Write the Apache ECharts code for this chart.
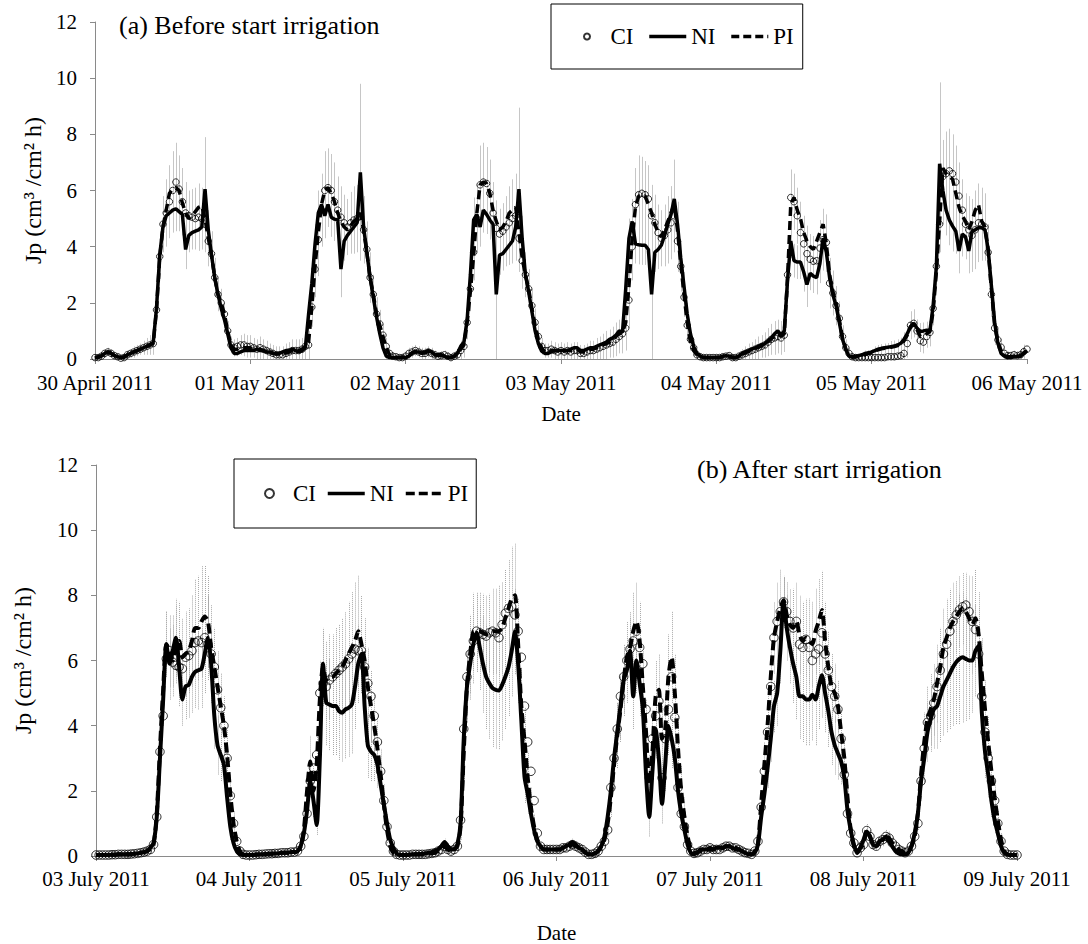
<!DOCTYPE html>
<html><head><meta charset="utf-8">
<script src="https://cdn.jsdelivr.net/npm/echarts/dist/echarts.min.js"></script>
<style>html,body{margin:0;padding:0;background:#fff}#c{width:1088px;height:944px}</style>
</head><body><div id="c"></div><script>
// ---------- data (half-hourly, 6 days + closing point) ----------
const stepHours = 0.5;
const xTickLabelsA = ['30 April 2011','01 May 2011','02 May 2011','03 May 2011','04 May 2011','05 May 2011','06 May 2011'];
const xTickLabelsB = ['03 July 2011','04 July 2011','05 July 2011','06 July 2011','07 July 2011','08 July 2011','09 July 2011'];
const yTicks = [0,2,4,6,8,10,12];
const seriesNames = ['CI','NI','PI'];

// (a) Before start irrigation
const ciA = [
0.05,0.05,0.1,0.2,0.25,0.2,0.12,0.08,0.03,0.05,0.15,0.2,
0.25,0.3,0.35,0.4,0.45,0.5,0.55,1.75,3.65,4.8,5.2,5.6,
6.0,6.3,6.05,5.6,5.2,5.1,5.05,5.0,5.05,5.0,4.8,4.2,
3.75,2.9,2.3,2.0,1.6,1.0,0.5,0.4,0.45,0.5,0.5,0.45,
0.45,0.4,0.35,0.4,0.35,0.3,0.25,0.2,0.15,0.15,0.15,0.2,
0.25,0.3,0.3,0.3,0.35,0.45,0.5,1.85,3.2,4.25,5.3,6.0,
6.1,6.0,5.6,5.3,5.05,4.85,4.7,4.85,4.95,5.0,5.08,4.6,
3.9,2.9,2.3,1.6,1.25,0.85,0.45,0.2,0.1,0.08,0.05,0.05,
0.1,0.2,0.25,0.3,0.25,0.2,0.2,0.25,0.2,0.15,0.1,0.12,
0.15,0.1,0.05,0.1,0.15,0.3,0.45,1.3,2.5,3.8,5.0,6.2,
6.3,6.25,5.9,5.2,4.65,4.45,4.55,4.7,4.85,5.0,5.1,4.3,
3.5,3.0,2.5,1.9,1.3,0.8,0.45,0.3,0.3,0.35,0.3,0.25,
0.3,0.25,0.3,0.25,0.3,0.3,0.2,0.2,0.25,0.3,0.3,0.35,
0.4,0.45,0.5,0.55,0.6,0.7,0.8,0.9,1.1,2.1,4.0,5.5,
5.85,5.9,5.85,5.7,5.1,4.85,4.5,4.3,4.4,4.6,4.85,5.1,
4.2,3.3,2.2,1.2,0.7,0.4,0.15,0.08,0.05,0.05,0.05,0.05,
0.05,0.05,0.08,0.1,0.12,0.05,0.05,0.1,0.15,0.2,0.25,0.3,
0.35,0.4,0.45,0.5,0.6,0.7,0.75,0.8,0.75,0.85,3.0,5.75,
5.6,5.1,4.5,4.1,3.75,3.55,3.48,3.5,3.95,4.25,4.15,2.7,
2.35,1.9,1.45,0.8,0.4,0.2,0.08,0.05,0.05,0.05,0.05,0.05,
0.05,0.05,0.05,0.05,0.05,0.08,0.08,0.08,0.1,0.12,0.2,0.55,
1.2,1.27,1.0,0.65,0.6,0.8,0.95,1.8,3.3,4.8,6.5,6.6,
6.7,6.6,6.3,5.8,5.3,4.8,4.6,4.4,4.6,4.85,4.8,4.7,
3.8,2.3,1.1,0.68,0.42,0.2,0.12,0.12,0.15,0.12,0.15,0.26,
0.35];
const niA = [
0.05,0.08,0.12,0.2,0.25,0.2,0.12,0.08,0.05,0.08,0.15,0.2,
0.25,0.3,0.35,0.4,0.45,0.5,0.6,1.8,3.7,4.7,5.1,5.2,
5.3,5.35,5.25,5.15,3.9,4.4,4.5,4.55,4.6,4.7,6.05,4.6,
3.7,2.9,2.3,1.8,1.4,0.9,0.4,0.2,0.2,0.25,0.3,0.3,
0.3,0.3,0.35,0.3,0.3,0.25,0.25,0.2,0.2,0.2,0.25,0.3,
0.3,0.35,0.3,0.25,0.3,0.4,1.6,2.7,4.1,5.2,5.5,5.1,
5.5,5.05,4.98,4.95,3.2,4.2,4.4,4.55,4.7,4.85,6.65,4.7,
3.8,2.9,2.2,1.5,0.9,0.4,0.1,0.05,0.05,0.05,0.05,0.05,
0.05,0.1,0.2,0.25,0.25,0.2,0.25,0.3,0.25,0.15,0.15,0.15,
0.1,0.05,0.05,0.1,0.2,0.45,0.6,1.4,3.0,4.95,5.15,4.7,
5.3,5.15,4.95,4.8,2.3,3.7,3.75,3.9,4.05,4.2,4.7,6.05,
4.3,3.0,2.4,1.7,1.0,0.55,0.28,0.2,0.2,0.25,0.3,0.3,
0.3,0.3,0.3,0.35,0.4,0.4,0.3,0.3,0.35,0.4,0.4,0.45,
0.5,0.55,0.6,0.7,0.75,0.85,1.0,0.95,2.5,4.3,4.9,4.1,
4.07,4.05,4.05,3.9,2.3,3.8,3.9,4.05,4.4,4.8,5.15,5.7,
4.8,3.6,2.6,1.6,0.9,0.44,0.2,0.1,0.05,0.05,0.05,0.05,
0.05,0.05,0.1,0.12,0.1,0.05,0.05,0.1,0.2,0.25,0.3,0.35,
0.4,0.45,0.5,0.55,0.65,0.75,0.9,1.0,0.85,1.0,2.8,4.2,
3.5,3.45,3.45,3.1,2.65,3.05,2.95,2.9,3.4,4.3,3.8,2.9,
2.3,1.9,1.3,0.7,0.35,0.1,0.08,0.1,0.12,0.15,0.2,0.22,
0.25,0.3,0.35,0.38,0.4,0.42,0.44,0.46,0.5,0.56,0.7,0.9,
1.15,1.27,1.1,0.98,1.0,1.03,1.0,1.9,3.3,6.95,6.0,5.3,
4.95,4.73,4.55,3.85,4.45,4.35,3.85,4.55,4.6,4.67,4.67,4.6,
3.9,2.6,1.3,0.56,0.2,0.1,0.05,0.05,0.08,0.1,0.1,0.2,
0.3];
const piA = [
0.05,0.06,0.1,0.2,0.25,0.2,0.12,0.08,0.04,0.06,0.15,0.2,
0.25,0.3,0.35,0.4,0.45,0.5,0.55,1.75,3.6,4.7,5.3,5.9,
6.05,6.1,6.0,5.55,5.2,5.0,5.1,5.25,5.4,5.45,5.0,4.3,
3.7,2.9,2.3,2.0,1.6,1.0,0.5,0.35,0.35,0.4,0.4,0.4,
0.4,0.35,0.35,0.35,0.3,0.3,0.25,0.2,0.18,0.17,0.18,0.22,
0.25,0.3,0.3,0.3,0.35,0.45,0.6,1.85,3.3,4.5,5.5,6.0,
6.1,5.9,5.6,5.2,4.9,4.7,4.6,4.75,4.9,5.0,5.2,4.6,
3.8,2.9,2.3,1.6,1.2,0.8,0.4,0.15,0.08,0.05,0.05,0.05,
0.1,0.15,0.22,0.28,0.25,0.2,0.22,0.27,0.22,0.15,0.12,0.13,
0.12,0.08,0.05,0.1,0.17,0.35,0.5,1.3,2.4,3.7,5.2,6.2,
6.3,6.25,5.9,5.3,4.9,4.6,4.7,4.9,5.2,5.3,5.4,4.5,
3.6,3.0,2.5,1.8,1.2,0.7,0.4,0.25,0.25,0.3,0.3,0.28,
0.3,0.28,0.3,0.3,0.35,0.35,0.25,0.25,0.3,0.35,0.35,0.4,
0.45,0.5,0.55,0.6,0.7,0.8,0.9,0.95,1.3,2.6,4.3,5.4,
5.8,5.85,5.8,5.5,5.2,4.8,4.5,4.35,4.6,4.9,5.2,5.5,
4.6,3.4,2.3,1.3,0.6,0.3,0.15,0.08,0.05,0.05,0.05,0.05,
0.05,0.05,0.09,0.11,0.11,0.05,0.05,0.1,0.17,0.22,0.27,0.32,
0.37,0.42,0.47,0.52,0.62,0.72,0.82,0.9,0.8,0.9,2.9,5.5,
5.75,5.3,5.0,4.5,4.2,4.0,3.9,4.2,4.5,4.8,4.1,3.0,
2.4,2.0,1.4,0.75,0.35,0.12,0.06,0.07,0.09,0.12,0.16,0.2,
0.22,0.28,0.33,0.36,0.38,0.4,0.42,0.44,0.48,0.53,0.65,0.85,
1.15,1.25,1.05,0.8,0.8,0.9,0.98,1.7,3.1,4.9,6.8,6.6,
6.5,6.4,5.9,5.4,5.1,4.9,4.6,4.9,5.3,5.5,4.9,4.7,
3.9,2.5,1.2,0.6,0.3,0.12,0.08,0.08,0.1,0.12,0.12,0.22,
0.3];
const errCIa = [
0.1,0.1,0.15,0.15,0.15,0.15,0.1,0.1,0.1,0.1,0.15,0.15,
0.2,0.2,0.2,0.25,0.3,0.35,0.4,0.5,0.8,1.0,1.2,1.3,
1.4,1.4,1.2,1.2,1.1,0.9,1.0,1.1,1.2,1.1,1.0,0.9,
0.8,0.7,0.6,0.5,0.4,0.35,0.3,0.3,0.3,0.35,0.4,0.4,
0.4,0.35,0.35,0.4,0.35,0.35,0.3,0.3,0.3,0.3,0.3,0.35,
0.35,0.4,0.4,0.4,0.4,0.45,0.5,0.7,1.0,1.3,1.3,1.4,
1.4,1.3,1.4,1.2,1.1,1.0,1.0,1.1,1.2,1.2,1.4,1.2,
1.0,0.9,0.7,0.6,0.5,0.4,0.3,0.2,0.15,0.1,0.1,0.1,
0.15,0.2,0.2,0.2,0.2,0.2,0.2,0.2,0.2,0.15,0.15,0.15,
0.15,0.15,0.1,0.15,0.2,0.3,0.4,0.6,0.8,1.0,1.2,1.4,
1.4,1.3,1.2,1.1,1.0,0.9,1.0,1.1,1.3,1.4,1.5,1.2,
1.0,0.8,0.7,0.6,0.5,0.4,0.3,0.25,0.25,0.3,0.3,0.3,
0.3,0.3,0.3,0.3,0.3,0.3,0.3,0.3,0.3,0.35,0.35,0.4,
0.4,0.45,0.5,0.5,0.55,0.6,0.6,0.7,0.8,1.0,1.2,1.3,
1.4,1.3,1.2,1.2,1.1,1.0,1.0,1.0,1.1,1.2,1.3,1.3,
1.1,0.9,0.7,0.5,0.4,0.3,0.2,0.1,0.1,0.1,0.1,0.1,
0.1,0.1,0.1,0.1,0.1,0.1,0.1,0.15,0.2,0.25,0.3,0.3,
0.35,0.4,0.4,0.45,0.5,0.55,0.6,0.6,0.6,0.6,0.8,1.0,
1.0,1.0,1.1,1.0,1.0,0.9,0.9,0.9,1.0,1.1,1.0,0.9,
0.8,0.7,0.6,0.4,0.3,0.2,0.1,0.1,0.1,0.1,0.1,0.1,
0.1,0.15,0.2,0.25,0.3,0.3,0.3,0.35,0.35,0.4,0.4,0.5,
0.5,0.5,0.4,0.4,0.4,0.4,0.5,0.6,0.8,1.0,1.3,1.5,
1.5,1.4,1.3,1.2,1.1,1.1,1.2,1.3,1.4,1.4,1.3,1.2,
1.0,0.8,0.6,0.4,0.3,0.2,0.15,0.15,0.15,0.15,0.2,0.25,
0.3];
const errNIa = [
0.05,0.05,0.05,0.05,0.05,0.05,0.05,0.05,0.05,0.05,0.05,0.05,
0.1,0.1,0.1,0.1,0.1,0.1,0.2,0.4,0.6,0.7,0.7,0.8,
0.8,0.8,0.7,0.7,0.7,0.6,0.6,0.6,0.6,0.7,1.85,0.7,
0.6,0.5,0.4,0.3,0.3,0.2,0.15,0.1,0.1,0.1,0.1,0.1,
0.1,0.1,0.1,0.1,0.1,0.1,0.1,0.1,0.1,0.1,0.1,0.1,
0.1,0.1,0.1,0.1,0.1,0.15,0.3,0.5,0.7,0.8,0.9,0.8,
0.8,0.7,0.7,0.7,1.0,0.7,0.6,0.6,0.7,0.8,3.15,1.0,
0.7,0.6,0.5,0.4,0.3,0.2,0.1,0.05,0.05,0.05,0.05,0.05,
0.05,0.1,0.1,0.1,0.1,0.1,0.1,0.1,0.1,0.1,0.1,0.1,
0.1,0.05,0.05,0.1,0.1,0.2,0.3,0.5,0.7,0.8,0.8,0.7,
0.8,0.7,0.7,0.7,2.3,0.7,0.6,0.6,0.7,0.8,1.2,2.9,
0.8,0.6,0.5,0.4,0.3,0.2,0.1,0.1,0.1,0.1,0.1,0.1,
0.1,0.1,0.1,0.1,0.1,0.1,0.1,0.1,0.1,0.1,0.1,0.1,
0.15,0.15,0.2,0.2,0.2,0.25,0.3,0.3,0.5,0.7,0.8,0.7,
0.7,0.7,0.7,0.7,2.3,0.7,0.7,0.7,0.7,0.8,1.0,1.4,
0.8,0.6,0.5,0.4,0.3,0.2,0.1,0.05,0.05,0.05,0.05,0.05,
0.05,0.05,0.05,0.05,0.05,0.05,0.1,0.1,0.1,0.1,0.1,0.1,
0.1,0.15,0.15,0.2,0.2,0.25,0.3,0.3,0.3,0.3,0.5,0.6,
0.6,0.6,0.6,0.7,0.8,0.6,0.6,0.6,0.7,0.8,0.7,0.6,
0.5,0.4,0.3,0.2,0.15,0.1,0.05,0.05,0.05,0.05,0.1,0.1,
0.1,0.15,0.15,0.15,0.15,0.15,0.2,0.2,0.2,0.2,0.25,0.3,
0.3,0.3,0.3,0.3,0.3,0.3,0.3,0.5,0.8,2.9,1.2,0.9,
0.9,0.9,0.8,0.8,0.8,0.8,0.8,0.8,0.8,0.8,0.8,0.7,
0.6,0.5,0.4,0.2,0.1,0.05,0.05,0.05,0.05,0.05,0.05,0.1,
0.1];

// (b) After start irrigation
const ciB = [
0.03,0.03,0.03,0.03,0.03,0.04,0.04,0.05,0.05,0.05,0.05,0.06,
0.07,0.08,0.1,0.12,0.15,0.2,0.35,1.2,3.2,4.3,6.05,6.3,
5.95,5.85,5.8,5.75,6.1,6.15,6.3,6.55,6.6,6.55,6.7,6.5,
6.2,5.8,5.1,4.55,4.0,3.0,1.85,1.0,0.45,0.15,0.05,0.03,
0.03,0.03,0.04,0.05,0.05,0.06,0.07,0.07,0.08,0.08,0.1,0.1,
0.1,0.12,0.12,0.15,0.3,0.6,1.3,2.3,2.7,3.1,5.0,5.3,
5.2,5.4,5.5,5.6,5.7,5.8,5.9,6.05,6.2,6.35,6.3,6.3,
5.8,5.3,4.9,4.3,3.5,2.6,1.7,0.9,0.4,0.15,0.05,0.03,
0.03,0.03,0.03,0.05,0.05,0.05,0.05,0.05,0.07,0.08,0.1,0.15,
0.2,0.3,0.2,0.15,0.2,0.3,1.1,3.9,5.5,6.2,6.6,6.9,
6.85,6.8,6.75,6.85,6.9,6.85,6.7,7.1,7.45,7.6,7.65,7.4,
6.9,6.1,4.6,3.5,2.6,1.7,0.7,0.3,0.2,0.2,0.2,0.2,
0.2,0.2,0.25,0.25,0.3,0.35,0.3,0.25,0.2,0.12,0.05,0.05,
0.08,0.15,0.3,0.45,0.8,2.1,3.0,3.9,4.9,5.5,6.0,6.35,
6.6,6.9,6.4,5.9,4.5,2.4,3.6,4.3,4.75,2.4,3.6,4.5,
5.5,4.25,2.1,1.3,0.9,0.35,0.15,0.08,0.1,0.15,0.2,0.2,
0.25,0.2,0.2,0.2,0.25,0.3,0.3,0.25,0.25,0.2,0.15,0.1,
0.08,0.05,0.15,0.45,1.5,2.6,3.8,5.2,6.7,7.2,7.5,7.8,
7.5,7.2,7.0,7.2,6.5,6.4,6.65,6.4,6.0,6.2,6.35,6.85,
6.2,5.7,5.2,4.9,4.5,3.6,2.5,1.3,0.7,0.4,0.1,0.25,
0.35,0.78,0.6,0.35,0.3,0.45,0.5,0.6,0.55,0.4,0.3,0.2,
0.15,0.1,0.15,0.3,0.6,1.0,2.3,3.3,4.1,4.3,4.7,5.2,
5.7,6.2,6.5,6.9,7.2,7.4,7.55,7.65,7.7,7.5,7.2,6.95,
6.2,4.9,3.8,3.0,2.3,1.7,1.0,0.45,0.15,0.05,0.03,0.03,
0.03];
const niB = [
0.03,0.03,0.03,0.03,0.03,0.04,0.04,0.05,0.05,0.05,0.05,0.06,
0.07,0.08,0.1,0.12,0.15,0.25,0.4,1.2,3.0,4.8,6.5,5.9,
6.3,6.7,5.8,4.8,5.2,5.25,5.5,5.65,5.7,5.75,6.2,6.7,
5.9,4.3,3.4,3.1,2.8,1.8,0.9,0.4,0.15,0.05,0.03,0.03,
0.03,0.03,0.04,0.05,0.05,0.06,0.07,0.07,0.08,0.08,0.1,0.1,
0.1,0.12,0.12,0.15,0.3,0.7,1.4,2.3,1.7,0.95,3.0,5.9,
4.7,4.65,4.6,4.6,4.45,4.4,4.5,4.55,4.65,5.2,5.9,6.2,
4.6,3.4,3.2,3.1,2.8,2.2,1.6,1.0,0.5,0.25,0.08,0.03,
0.03,0.03,0.04,0.05,0.05,0.06,0.07,0.08,0.1,0.12,0.15,0.2,
0.3,0.43,0.3,0.2,0.2,0.35,1.0,3.6,5.2,5.9,6.5,6.85,
6.4,5.9,5.5,5.3,5.15,5.1,5.08,5.25,5.5,5.8,6.3,6.88,
5.9,4.17,2.43,1.9,1.3,0.8,0.45,0.3,0.2,0.2,0.2,0.2,
0.2,0.2,0.25,0.3,0.35,0.43,0.35,0.25,0.2,0.1,0.05,0.05,
0.08,0.15,0.3,0.6,1.2,2.0,3.0,3.8,4.6,5.4,5.7,6.3,
4.9,6.0,5.3,4.5,2.5,1.2,2.6,3.9,3.0,1.6,2.8,4.0,
3.6,3.0,2.0,1.3,0.8,0.35,0.1,0.05,0.1,0.2,0.2,0.2,
0.2,0.2,0.25,0.25,0.25,0.3,0.3,0.25,0.2,0.2,0.15,0.1,
0.05,0.05,0.1,0.35,1.2,1.9,2.7,3.6,4.6,5.0,6.3,7.8,
7.0,6.4,5.9,5.5,4.9,4.9,4.8,4.8,4.95,4.8,5.2,5.55,
5.0,4.45,3.8,3.4,3.15,2.9,2.4,1.4,0.8,0.35,0.1,0.25,
0.5,0.75,0.6,0.35,0.3,0.45,0.5,0.6,0.45,0.3,0.15,0.08,
0.05,0.05,0.1,0.3,0.7,1.3,2.3,3.0,3.8,4.2,4.5,4.6,
4.9,5.2,5.4,5.6,5.8,5.95,6.05,6.1,6.05,6.0,6.0,6.3,
6.45,4.4,3.2,2.5,1.7,1.1,0.7,0.3,0.1,0.05,0.03,0.03,
0.03];
const piB = [
0.03,0.03,0.03,0.03,0.03,0.04,0.04,0.05,0.05,0.05,0.05,0.06,
0.07,0.08,0.1,0.12,0.15,0.22,0.35,1.3,3.3,5.1,6.5,6.3,
6.0,6.5,6.6,6.1,6.2,6.3,6.6,7.0,7.0,7.2,7.35,7.2,
6.4,5.8,5.2,4.6,4.0,3.1,1.9,1.0,0.45,0.15,0.05,0.03,
0.03,0.03,0.04,0.05,0.05,0.06,0.07,0.07,0.08,0.08,0.1,0.1,
0.1,0.12,0.12,0.15,0.3,0.8,2.0,2.9,2.0,2.8,4.8,5.8,
5.4,5.5,5.5,5.6,5.7,5.8,6.0,6.2,6.4,6.6,6.9,6.5,
6.0,5.2,4.6,4.0,3.3,2.5,1.6,0.8,0.3,0.1,0.05,0.03,
0.03,0.03,0.03,0.05,0.05,0.05,0.05,0.05,0.07,0.08,0.1,0.15,
0.2,0.3,0.2,0.15,0.2,0.3,0.9,3.2,5.2,6.2,6.88,6.9,
6.9,6.85,6.8,6.85,6.9,6.9,6.9,7.0,7.3,7.6,7.9,8.0,
6.5,4.6,3.55,2.4,1.5,0.9,0.5,0.3,0.2,0.2,0.2,0.2,
0.2,0.2,0.25,0.25,0.3,0.35,0.3,0.25,0.2,0.12,0.05,0.05,
0.08,0.15,0.3,0.5,1.0,1.8,2.8,3.7,4.5,5.4,6.1,6.4,
6.9,7.2,6.6,5.2,3.8,2.2,3.2,4.9,5.1,3.6,3.9,5.5,
6.1,5.0,3.3,2.0,1.2,0.6,0.2,0.1,0.1,0.15,0.2,0.2,
0.25,0.2,0.2,0.2,0.25,0.3,0.3,0.25,0.25,0.2,0.15,0.1,
0.08,0.05,0.15,0.4,1.6,2.8,4.0,5.5,6.7,7.2,7.6,7.85,
7.4,7.1,7.0,7.2,6.8,6.6,6.7,6.6,6.5,6.9,7.2,7.55,
6.6,5.8,5.2,5.0,4.6,3.8,3.0,1.8,0.8,0.3,0.1,0.25,
0.35,0.78,0.6,0.35,0.3,0.45,0.5,0.6,0.55,0.4,0.3,0.2,
0.15,0.1,0.15,0.3,0.6,1.3,2.5,3.5,4.2,4.5,4.8,5.3,
5.8,6.4,6.7,7.0,7.2,7.35,7.5,7.6,7.5,7.3,7.1,7.3,
6.8,5.6,4.5,3.5,2.6,1.8,1.1,0.5,0.15,0.05,0.03,0.03,
0.03];
const errPIb = [
0.05,0.05,0.05,0.05,0.05,0.05,0.05,0.05,0.05,0.05,0.05,0.05,
0.05,0.05,0.1,0.1,0.1,0.15,0.2,0.4,0.7,0.9,1.0,1.1,
1.1,1.2,1.2,1.2,1.3,1.3,1.4,1.5,1.6,1.7,1.55,1.4,
1.3,1.2,1.1,1.0,0.9,0.8,0.6,0.4,0.2,0.1,0.05,0.05,
0.05,0.05,0.05,0.05,0.05,0.05,0.05,0.05,0.05,0.05,0.05,0.05,
0.05,0.05,0.05,0.1,0.15,0.3,0.6,0.8,0.8,0.9,1.2,1.2,
1.2,1.3,1.3,1.4,1.4,1.5,1.5,1.6,1.7,1.8,1.7,1.5,
1.3,1.2,1.1,1.0,0.9,0.8,0.6,0.4,0.2,0.1,0.05,0.05,
0.05,0.05,0.05,0.05,0.05,0.05,0.05,0.05,0.05,0.05,0.05,0.1,
0.1,0.15,0.1,0.1,0.1,0.15,0.4,0.9,1.1,1.2,1.2,1.2,
1.2,1.2,1.2,1.2,1.3,1.3,1.4,1.4,1.5,1.5,1.6,1.6,
1.4,1.2,1.0,0.8,0.6,0.4,0.2,0.1,0.1,0.1,0.1,0.1,
0.1,0.1,0.1,0.1,0.1,0.15,0.1,0.1,0.1,0.05,0.05,0.05,
0.05,0.05,0.1,0.2,0.4,0.6,0.8,1.0,1.0,1.1,1.1,1.1,
1.2,1.2,1.2,1.1,1.0,0.9,1.0,1.1,1.1,1.0,1.1,1.3,
1.4,1.2,1.0,0.8,0.6,0.4,0.2,0.1,0.1,0.1,0.1,0.1,
0.1,0.1,0.1,0.1,0.1,0.1,0.1,0.1,0.1,0.1,0.1,0.05,
0.05,0.05,0.05,0.1,0.4,0.7,0.9,1.0,1.1,1.2,1.2,0.7,
1.0,1.1,1.2,1.2,1.2,1.2,1.2,1.3,1.3,1.3,1.3,1.2,
1.2,1.1,1.0,0.9,0.8,0.7,0.6,0.4,0.2,0.1,0.05,0.1,
0.15,0.2,0.2,0.15,0.1,0.15,0.2,0.2,0.2,0.15,0.1,0.1,
0.05,0.05,0.05,0.1,0.3,0.5,0.7,0.9,1.0,1.1,1.1,1.2,
1.2,1.2,1.2,1.2,1.2,1.1,1.1,1.1,1.2,1.3,1.5,1.5,
1.3,1.1,0.9,0.8,0.6,0.5,0.3,0.2,0.1,0.05,0.05,0.05,
0.05];
const errNIb = [
0.03,0.03,0.03,0.03,0.03,0.03,0.03,0.03,0.03,0.03,0.03,0.03,
0.03,0.03,0.05,0.05,0.05,0.1,0.15,0.3,0.6,0.8,1.0,1.1,
1.1,1.2,1.2,0.8,1.0,1.0,1.1,1.1,1.2,1.2,1.2,1.3,
1.2,1.0,0.9,0.8,0.7,0.6,0.4,0.2,0.1,0.05,0.03,0.03,
0.03,0.03,0.03,0.03,0.03,0.03,0.03,0.03,0.03,0.03,0.03,0.03,
0.03,0.03,0.05,0.05,0.1,0.2,0.4,0.5,0.4,0.3,0.6,1.0,
1.3,1.4,1.5,1.5,1.5,1.5,1.5,1.5,1.5,1.3,1.2,1.2,
1.1,1.0,0.9,0.8,0.7,0.6,0.4,0.3,0.2,0.1,0.03,0.03,
0.03,0.03,0.03,0.03,0.05,0.05,0.05,0.05,0.05,0.05,0.05,0.1,
0.1,0.1,0.1,0.1,0.1,0.1,0.3,0.8,1.0,1.1,1.2,1.2,
1.3,1.5,1.6,1.7,1.8,1.8,1.8,1.7,1.6,1.5,1.4,1.3,
1.2,1.0,0.8,0.6,0.4,0.3,0.2,0.1,0.1,0.1,0.1,0.1,
0.1,0.1,0.1,0.1,0.1,0.1,0.1,0.1,0.1,0.05,0.05,0.05,
0.05,0.05,0.1,0.2,0.4,0.6,0.8,0.9,1.0,1.0,1.0,1.0,
1.0,1.0,1.0,0.9,0.8,0.6,0.8,0.9,0.8,0.6,0.8,0.9,
0.9,0.8,0.7,0.5,0.4,0.2,0.1,0.05,0.05,0.1,0.1,0.1,
0.1,0.1,0.1,0.1,0.1,0.1,0.1,0.1,0.1,0.1,0.1,0.05,
0.05,0.05,0.05,0.1,0.3,0.5,0.6,0.7,0.8,1.0,1.0,0.8,
1.0,1.1,1.2,1.3,1.3,1.4,1.4,1.4,1.4,1.4,1.3,1.3,
1.2,1.1,1.0,0.9,0.8,0.7,0.5,0.4,0.2,0.1,0.05,0.1,
0.1,0.15,0.15,0.1,0.1,0.1,0.15,0.15,0.1,0.1,0.1,0.05,
0.05,0.05,0.05,0.1,0.2,0.4,0.6,0.8,0.9,1.0,1.2,1.3,
1.4,1.5,1.6,1.7,1.8,1.9,2.0,2.0,1.9,1.8,1.6,1.4,
1.2,1.0,0.8,0.7,0.5,0.4,0.3,0.2,0.1,0.05,0.03,0.03,
0.03];

// ---------- chart ----------
const FONT = "'Liberation Serif','Times New Roman',serif";
const AX = '#8a8a8a';
const pts = arr => arr.map((v, i) => [i * stepHours, v]);
const bars = (arr, err) => arr.map((v, i) => [i * stepHours, Math.max(0, v - err[i]), v + err[i]]);

function errSeries(idx, data, color, dash) {
  return {
    type: 'custom', xAxisIndex: idx, yAxisIndex: idx, z: 1, silent: true,
    encode: {x: 0, y: [1, 2]}, data: data, clip: true,
    renderItem: function (params, api) {
      const a = api.coord([api.value(0), api.value(1)]);
      const b = api.coord([api.value(0), api.value(2)]);
      const x = Math.round(a[0]) + 0.5;
      return {type: 'line', shape: {x1: x, y1: a[1], x2: x, y2: b[1]},
        style: {stroke: color, lineWidth: 1, lineDash: dash}};
    }
  };
}

function xAxis(idx, labels, margin, nameGap) {
  return {
    gridIndex: idx, type: 'value', min: 0, max: 144, interval: 24,
    axisLine: {show: true, onZero: false, lineStyle: {color: AX, width: 1}},
    axisTick: {show: true, length: 5, lineStyle: {color: AX}},
    splitLine: {show: false},
    axisLabel: {formatter: v => labels[Math.round(v / 24)], fontFamily: FONT, fontSize: 21, color: '#000', margin: margin},
    name: 'Date', nameLocation: 'middle', nameGap: nameGap,
    nameTextStyle: {fontFamily: FONT, fontSize: 21, color: '#000'}
  };
}
function yAxis(idx, nameGap) {
  return {
    gridIndex: idx, type: 'value', min: yTicks[0], max: yTicks[yTicks.length - 1], interval: 2,
    axisLine: {show: true, lineStyle: {color: AX, width: 1}},
    axisTick: {show: true, length: 5, lineStyle: {color: AX}},
    splitLine: {show: false},
    axisLabel: {fontFamily: FONT, fontSize: 21, color: '#000', margin: 18},
    name: 'Jp (cm³ /cm² h)', nameLocation: 'middle', nameGap: nameGap, nameRotate: 90,
    nameTextStyle: {fontFamily: FONT, fontSize: 24, color: '#000'}
  };
}
function legendData(dash) {
  return [
    {name: seriesNames[0]},
    {name: seriesNames[1], itemStyle: {opacity: 0}, lineStyle: {width: 3.5, type: 'solid'}},
    {name: seriesNames[2], itemStyle: {opacity: 0}, lineStyle: {width: 3.5, type: dash}}
  ];
}

const chart = echarts.init(document.getElementById('c'), null, {renderer: 'svg', width: 1088, height: 944});
chart.setOption({
  backgroundColor: '#fff',
  animation: false,
  title: [
    {text: '(a) Before start irrigation', left: 114, top: 7, textStyle: {fontFamily: FONT, fontSize: 26, fontWeight: 'normal', color: '#000'}},
    {text: '(b) After start irrigation', left: 692, top: 451, textStyle: {fontFamily: FONT, fontSize: 26, fontWeight: 'normal', color: '#000'}}
  ],
  legend: [
    {left: 551, top: 4, orient: 'horizontal', padding: [21, 9, 21, 32], itemGap: 14, itemWidth: 37, itemHeight: 6,
     borderColor: '#000', borderWidth: 1, selectedMode: false,
     textStyle: {fontFamily: FONT, fontSize: 23, color: '#000'}, data: legendData([8, 4])},
    {left: 234, top: 459, orient: 'horizontal', padding: [23, 8, 23, 30], itemGap: 10, itemWidth: 37, itemHeight: 9,
     borderColor: '#000', borderWidth: 1, selectedMode: false,
     textStyle: {fontFamily: FONT, fontSize: 23, color: '#000'}, data: legendData([9, 4])}
  ],
  grid: [
    {left: 95, right: 61, top: 22, bottom: 585},
    {left: 96, right: 71, top: 465, bottom: 88}
  ],
  xAxis: [xAxis(0, xTickLabelsA, 13, 44), xAxis(1, xTickLabelsB, 12, 66)],
  yAxis: [yAxis(0, 46), yAxis(1, 61)],
  series: [
    errSeries(0, bars(ciA, errCIa), '#c6c6c6', null),
    errSeries(0, bars(niA, errNIa), '#c6c6c6', null),
    {name: 'CI', type: 'scatter', xAxisIndex: 0, yAxisIndex: 0, z: 2, data: pts(ciA), symbol: 'circle', symbolSize: 6.5,
     itemStyle: {color: 'rgba(255,255,255,0)', borderColor: '#000', borderWidth: 1}},
    {name: 'NI', type: 'line', xAxisIndex: 0, yAxisIndex: 0, z: 3, data: pts(niA), symbol: 'none', showSymbol: false,
     lineStyle: {color: '#000', width: 3.5}, itemStyle: {color: '#000'}},
    {name: 'PI', type: 'line', xAxisIndex: 0, yAxisIndex: 0, z: 4, data: pts(piA), symbol: 'none', showSymbol: false,
     lineStyle: {color: '#000', width: 3.5, type: [9, 5]}, itemStyle: {color: '#000'}},
    errSeries(1, bars(piB, errPIb), '#a8a8a8', [1, 1]),
    errSeries(1, bars(niB, errNIb), '#a8a8a8', [1, 1]),
    {name: 'CI', type: 'scatter', xAxisIndex: 1, yAxisIndex: 1, z: 2, data: pts(ciB), symbol: 'circle', symbolSize: 8.5,
     itemStyle: {color: 'rgba(255,255,255,0)', borderColor: '#000', borderWidth: 1}},
    {name: 'NI', type: 'line', xAxisIndex: 1, yAxisIndex: 1, z: 3, data: pts(niB), symbol: 'none', showSymbol: false, smooth: 0.25,
     lineStyle: {color: '#000', width: 4}, itemStyle: {color: '#000'}},
    {name: 'PI', type: 'line', xAxisIndex: 1, yAxisIndex: 1, z: 4, data: pts(piB), symbol: 'none', showSymbol: false, smooth: 0.25,
     lineStyle: {color: '#000', width: 4, type: [10, 5]}, itemStyle: {color: '#000'}}
  ]
});
</script></body></html>
